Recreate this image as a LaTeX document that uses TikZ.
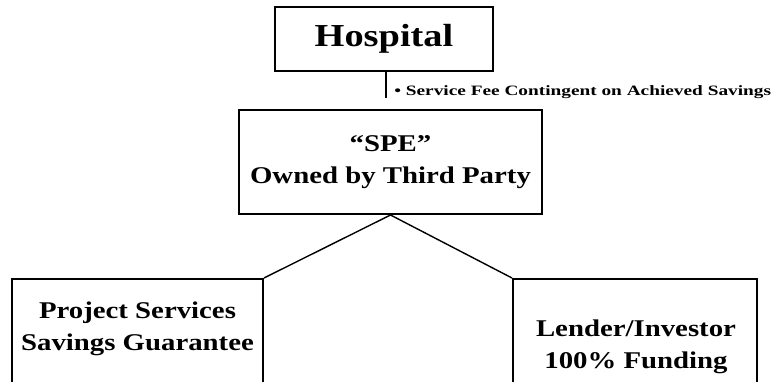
\documentclass[tikz,border=0pt]{standalone}
\usepackage{fontspec}
\setmainfont{Liberation Serif}
\newfontfamily\boxfont[FakeStretch=1.2]{Liberation Serif}
\newfontfamily\notefont[FakeStretch=1.35]{Liberation Serif}
\usetikzlibrary{positioning}

\begin{document}
\begin{tikzpicture}[
  x=1pt, y=1pt,
  box/.style={draw, rectangle, line width=2pt, inner sep=0pt},
  link/.style={line width=1.4pt},
  txt/.style={align=center, font=\boxfont\bfseries\fontsize{24}{31.5}\selectfont}]

  \useasboundingbox (0,0) rectangle (774,382);
  \clip (0,0) rectangle (774,382);

  \node[box, minimum width=218pt, minimum height=64pt,
    font=\boxfont\bfseries\fontsize{32}{36}\selectfont](hosp) at (384,343) {Hospital};
  \node[box, minimum width=303pt, minimum height=104pt, align=center,
    font=\boxfont\bfseries\fontsize{24}{32}\selectfont](spe) at (390.5,220) {“SPE”\\Owned by Third Party};

  \node[box, minimum width=251pt, minimum height=140pt, anchor=north](proj) at (137.5,104) {};
  \node[box, minimum width=244pt, minimum height=140pt, anchor=north](lend) at (635,104) {};
  \node[txt](projText) at (137.5,53) {Project Services\\Savings Guarantee};
  \node[txt](lendText) at (636,35) {Lender/Investor\\100\% Funding};

  % fee note hangs off the hospital
  \coordinate (feeEnd) at (386,284);
  \draw[line width=2pt] (hosp.south -| feeEnd) -- (feeEnd)
    node[pos=0.78, right=4pt, font=\notefont\bfseries\fontsize{14.3}{16}\selectfont]
    {• Service Fee Contingent on Achieved Savings};

  \draw[link] (proj.north east) -- (spe.south) -- (lend.north west);
\end{tikzpicture}
\end{document}
